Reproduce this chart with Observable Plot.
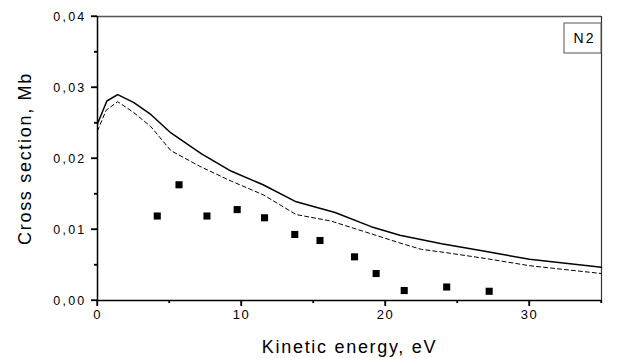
<!DOCTYPE html>
<html>
<head>
<meta charset="utf-8">
<script src="https://cdn.jsdelivr.net/npm/d3@7"></script>
<script src="https://cdn.jsdelivr.net/npm/@observablehq/plot@0.6"></script>
<style>
  html, body { margin: 0; padding: 0; background: #fff; }
  #chart { width: 621px; height: 358px; }
  svg { font-family: "Liberation Sans", Arial, sans-serif; }
</style>
</head>
<body>
<div id="chart"></div>
<script>
// Theory curve (solid)
const solidE  = [0, 0.65, 1.4, 2.5, 3.7, 5.1, 7.2, 9.3, 11.5, 13.8, 16.5, 19, 21, 23.9, 27, 30, 35];
const solidCS = [0.0249, 0.0281, 0.0290, 0.0279, 0.0262, 0.0236, 0.0207, 0.0182, 0.0163, 0.0139, 0.0124, 0.0104, 0.0092, 0.0080, 0.0069, 0.0058, 0.0047];
// Theory curve (dashed)
const dashE  = [0, 0.6, 1.4, 2.5, 3.7, 5.1, 7.2, 9.3, 11.5, 13.8, 16.2, 19, 21, 22.5, 24, 27, 30, 35];
const dashCS = [0.0239, 0.0268, 0.0280, 0.0265, 0.0245, 0.0211, 0.0188, 0.0168, 0.0149, 0.0121, 0.0112, 0.0094, 0.0081, 0.0072, 0.0068, 0.0059, 0.0049, 0.0038];
// Experimental points
const expE  = [4.15, 5.66, 7.6, 9.7, 11.6, 13.7, 15.45, 17.85, 19.35, 21.3, 24.25, 27.2];
const expCS = [0.0119, 0.0163, 0.0119, 0.0128, 0.01165, 0.0093, 0.00845, 0.00615, 0.0038, 0.0014, 0.0019, 0.0013];
// Ticks
const xMajor = [0, 10, 20, 30];
const xMinor = [5, 15, 25, 35];
const yMajor = [0, 0.01, 0.02, 0.03, 0.04];
const yMinor = [0.005, 0.015, 0.025, 0.035];
const panelLabel = "N2";

const solid = solidE.map((e, i) => ({e, cs: solidCS[i]}));
const dashed = dashE.map((e, i) => ({e, cs: dashCS[i]}));
const exp = expE.map((e, i) => ({e, cs: expCS[i]}));
const fmt = d => d.toFixed(2).replace(".", ",");

const chart = Plot.plot({
  width: 621,
  height: 358,
  marginLeft: 97,
  marginRight: 20,
  marginTop: 16,
  marginBottom: 58,
  style: {fontFamily: '"Liberation Sans", Arial, sans-serif', fontSize: "13px"},
  x: {domain: [0, 35]},
  y: {domain: [0, 0.04]},
  marks: [
    Plot.ruleY([0.04], {stroke: "#555", strokeWidth: 1.5}),
    Plot.ruleX([35], {stroke: "#333", strokeWidth: 1.2}),
    Plot.line(solid, {x: "e", y: "cs", stroke: "#000", strokeWidth: 1.5}),
    Plot.line(dashed, {x: "e", y: "cs", stroke: "#000", strokeWidth: 1, strokeDasharray: "4,3"}),
    Plot.dot(exp, {x: "e", y: "cs", symbol: "square", fill: "#000", r: 4}),
    Plot.text([panelLabel], {frameAnchor: "top-right", dx: -6, dy: 17, fill: "#000", className: "panel-label"}),
    Plot.ruleX([0], {stroke: "#000", strokeWidth: 1.5}),
    Plot.ruleY([0], {stroke: "#000", strokeWidth: 1.5}),
    Plot.axisX({ticks: xMinor, tickSize: 3, text: null, label: null, stroke: "#000", strokeWidth: 1.3}),
    Plot.axisX({ticks: xMajor, tickSize: 6, tickPadding: 3, tickFormat: d => String(d), stroke: "#000", strokeWidth: 1.3,
      label: "Kinetic energy, eV", labelAnchor: "center", labelArrow: "none", labelOffset: 52}),
    Plot.axisY({ticks: yMinor, tickSize: 3, text: null, label: null, stroke: "#000", strokeWidth: 1.3}),
    Plot.axisY({ticks: yMajor, tickSize: 6, tickPadding: 5, tickFormat: fmt, stroke: "#000", strokeWidth: 1.3,
      label: "Cross section, Mb", labelAnchor: "center", labelArrow: "none", labelOffset: 79})
  ]
});

document.getElementById("chart").appendChild(chart);
const svg = d3.select(chart);
// tick labels
svg.selectAll("g[aria-label='x-axis tick label'] text").style("font-size", "13px").style("letter-spacing", "1.5px");
svg.selectAll("g[aria-label='y-axis tick label'] text").style("font-size", "12.5px").style("letter-spacing", "2.2px");
// axis label font sizes
svg.selectAll("g[aria-label='x-axis label'] text, g[aria-label='y-axis label'] text")
  .style("font-size", "18px").style("letter-spacing", "1.7px");
// scales
const sx = chart.scale("x"), sy = chart.scale("y");
const x0 = sx.apply(0), y0 = sy.apply(0);
const frameRight = sx.apply(35), frameTop = sy.apply(0.04);
// reinforce tick marks, positioned through Plot's scales
const tg = svg.append("g").attr("stroke", "#000").attr("stroke-width", 1.3).attr("fill", "none");
xMajor.forEach(v => tg.append("line").attr("x1", sx.apply(v)).attr("x2", sx.apply(v)).attr("y1", y0).attr("y2", y0 + 6));
xMinor.forEach(v => tg.append("line").attr("x1", sx.apply(v)).attr("x2", sx.apply(v)).attr("y1", y0).attr("y2", y0 + 3));
yMajor.forEach(v => tg.append("line").attr("y1", sy.apply(v)).attr("y2", sy.apply(v)).attr("x1", x0).attr("x2", x0 - 6));
yMinor.forEach(v => tg.append("line").attr("y1", sy.apply(v)).attr("y2", sy.apply(v)).attr("x1", x0).attr("x2", x0 - 3));
// box around panel label
const labelG = svg.select(".panel-label").node();
svg.selectAll(".panel-label text").style("font-size", "14px").style("letter-spacing", "2px");
if (labelG) {
  d3.select(labelG.parentNode).insert("rect", () => labelG)
    .attr("x", frameRight - 37).attr("y", frameTop + 7)
    .attr("width", 37).attr("height", 30)
    .attr("fill", "#fff").attr("stroke", "#555").attr("stroke-width", 1);
}
</script>
</body>
</html>
